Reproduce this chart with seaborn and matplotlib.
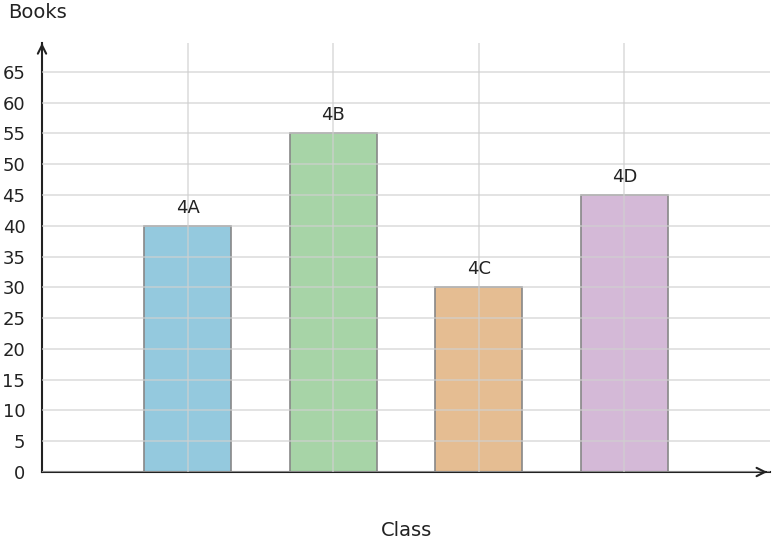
import matplotlib
matplotlib.use("Agg")
import matplotlib.pyplot as plt
import seaborn as sns
import pandas as pd

classes = ["4A", "4B", "4C", "4D"]
books = [40, 55, 30, 45]
colors = ["#87CEEB", "#A0DBA0", "#F3BD84", "#D8B4DC"]
yticks = list(range(0, 70, 5))

sns.set_style("white")
plt.rcParams['font.family'] = ['DejaVu Sans']
fig = plt.figure(figsize=(7.74, 5.48), dpi=100)
ax = fig.add_axes([42/774, 1-472/548, 728/774, (472-43)/548])
df = pd.DataFrame({"Class": classes, "Books": books})
sns.barplot(data=df, x="Class", y="Books", hue="Class", palette=colors,
            width=0.6, edgecolor="#888888", linewidth=1.2, alpha=1, ax=ax,
            legend=False, zorder=1)
ax.set_xlim(-1, 4)
ax.set_ylim(0, 69.7)
ax.set_yticks(yticks)
ax.set_yticklabels([str(v) for v in yticks], fontsize=13, color="#222222")
ax.set_xticks(range(len(classes)))
ax.set_xticklabels([])
ax.grid(True, color="#d0d0d0", linewidth=1.2, zorder=2)
ax.set_axisbelow(False)
for p in ax.patches:
    p.set_zorder(1)
for g in ax.get_xgridlines() + ax.get_ygridlines():
    g.set_zorder(2); g.set_alpha(0.7)
ax.tick_params(axis="y", length=0, pad=12)
ax.tick_params(axis="x", length=0)
for s in ["top", "right"]:
    ax.spines[s].set_visible(False)
for s in ["left", "bottom"]:
    ax.spines[s].set_color("#222222"); ax.spines[s].set_linewidth(1.5)
for i, (c, b) in enumerate(zip(classes, books)):
    ax.text(i, b + 1.5, c, ha="center", va="bottom", fontsize=13, color="#222222")
ax.set_xlabel(""); ax.set_ylabel("")
ax.annotate("", xy=(1.0, 0), xycoords="axes fraction", xytext=(0.99, 0),
            arrowprops=dict(arrowstyle="->", color="#222222", lw=1.5, mutation_scale=15))
ax.annotate("", xy=(0, 1.0), xycoords="axes fraction", xytext=(0, 0.99),
            arrowprops=dict(arrowstyle="->", color="#222222", lw=1.5, mutation_scale=15))
fig.text(8/774, 1-12/548, "Books", fontsize=14, color="#222222", va="center", ha="left")
fig.text(406/774, 1-531/548, "Class", fontsize=14, color="#222222", va="center", ha="center")
fig.savefig("out.png", dpi=100)
